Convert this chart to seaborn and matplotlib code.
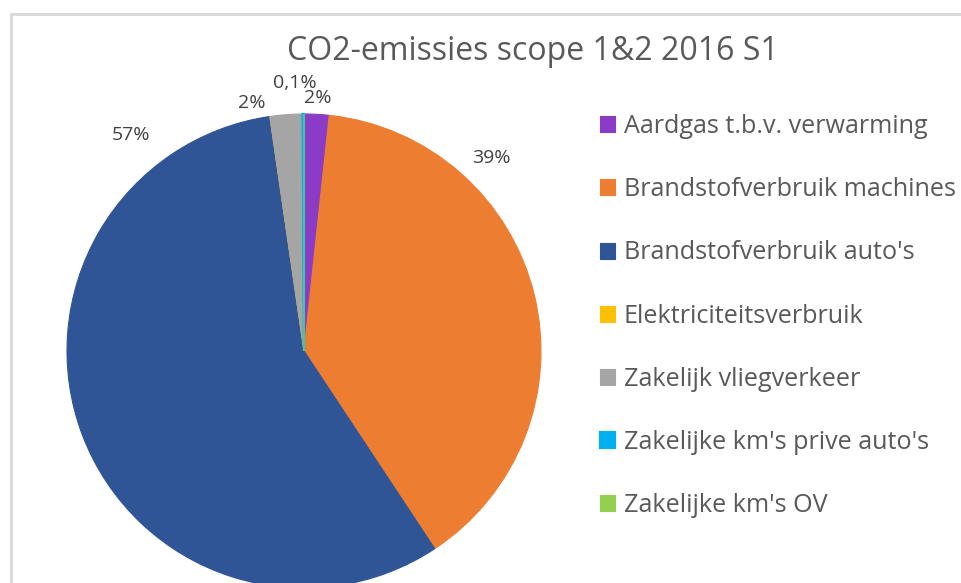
import numpy as np
import matplotlib
matplotlib.use("Agg")
import matplotlib.pyplot as plt
import seaborn as sns
from matplotlib.patches import Rectangle

sns.set_theme(style="white")
plt.rcParams["font.family"] = ["Open Sans", "DejaVu Sans"]

# ---- data ----
categories = ["Aardgas t.b.v. verwarming", "Brandstofverbruik machines",
              "Brandstofverbruik auto's", "Elektriciteitsverbruik",
              "Zakelijk vliegverkeer", "Zakelijke km's prive auto's",
              "Zakelijke km's OV"]
shares = [1.7, 39.0, 57.0, 0.0, 2.2, 0.1, 0.0]
pct_labels = ["2%", "39%", "57%", "", "2%", "0,1%", ""]
colors = ["#8B3BC6", "#ED7D31", "#2F5597", "#FFC000", "#A5A5A5", "#00B0F0", "#92D050"]
title = "CO2-emissies scope 1&2 2016 S1"

# label placement (clockwise degrees from 12 o'clock, radius in pie radii)
lab_angle = [3, 44, -38.7, 0, -11.8, -1.9, 0]
lab_rad = [1.07, 1.135, 1.17, 0, 1.07, 1.13, 0]

W, H = 961, 583
fig = plt.figure(figsize=(W / 100, H / 100), dpi=100)

# chart frame (partly cut off at the right/bottom)
fig.add_artist(Rectangle((11 / W, -0.2), 1.2, 1.2 - 14 / H, transform=fig.transFigure,
                         fill=False, edgecolor="#d9d9d9", lw=2))

R = 237
cx, cy = 304, 351
ax = fig.add_axes([(cx - R) / W, (H - cy - R) / H, 2 * R / W, 2 * R / H])
wedges, _ = ax.pie(shares, colors=colors, startangle=90, counterclock=False, radius=1,
                   wedgeprops=dict(linewidth=0.8))
for w, c in zip(wedges, colors):
    w.set_edgecolor(c)
wedges[5].set_linewidth(1.6)
ax.set_xlim(-1, 1)
ax.set_ylim(-1, 1)
ax.set_aspect("equal")
ax.axis("off")

for lab, a, r in zip(pct_labels, lab_angle, lab_rad):
    if not lab:
        continue
    t = np.deg2rad(a)
    ax.text(r * np.sin(t), r * np.cos(t), lab, ha="center", va="center",
            fontsize=14, color="#404040", clip_on=False)

fig.text(533 / W, 1 - 51 / H, title, ha="center", va="center", fontsize=23, color="#595959")

leg = fig.legend(wedges, categories, loc="upper left", bbox_to_anchor=(600 / W, 1 - 114 / H),
                 frameon=False, fontsize=18.1, labelcolor="#595959",
                 handlelength=0.6, handleheight=0.6, handletextpad=0.35,
                 labelspacing=1.52, borderaxespad=0, borderpad=0)

fig.savefig("out.png", dpi=100)
